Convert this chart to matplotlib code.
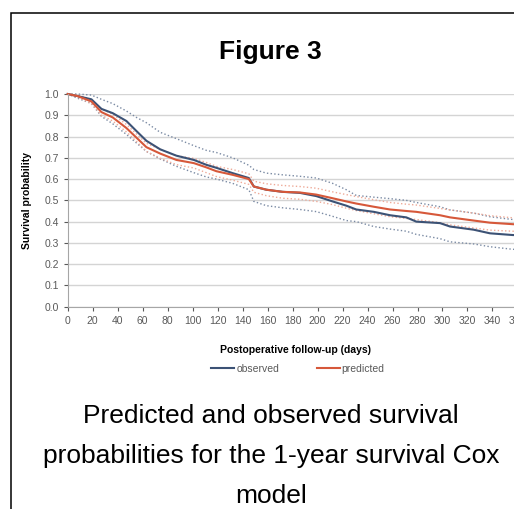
import matplotlib.pyplot as plt
from matplotlib.patches import Rectangle

plt.rcParams['font.family'] = ['Liberation Sans', 'DejaVu Sans']

# ==========================================
# data (days, survival probability)
# ==========================================
DAYS = [0, 8, 19, 27, 36, 47, 55, 63, 74, 87, 101, 111, 119, 132, 145, 149,
        159, 172, 186, 199, 212, 223, 231, 245, 258, 271, 279, 298, 306, 325,
        338, 356, 365]

OBSERVED = [1.0, 0.99, 0.975, 0.93, 0.91, 0.873, 0.826, 0.78, 0.74, 0.71, 0.69,
            0.667, 0.653, 0.628, 0.605, 0.565, 0.55, 0.54, 0.535, 0.52, 0.495,
            0.475, 0.457, 0.446, 0.43, 0.42, 0.40, 0.393, 0.377, 0.362, 0.345,
            0.337, 0.335]
OBS_UPPER = [1.0, 1.0, 0.995, 0.975, 0.955, 0.92, 0.89, 0.865, 0.82, 0.79, 0.757,
             0.735, 0.725, 0.70, 0.665, 0.645, 0.628, 0.62, 0.613, 0.605, 0.58,
             0.55, 0.523, 0.515, 0.508, 0.50, 0.49, 0.47, 0.455, 0.44, 0.423,
             0.41, 0.405]
OBS_LOWER = [1.0, 0.98, 0.955, 0.895, 0.86, 0.81, 0.77, 0.73, 0.695, 0.66, 0.63,
             0.61, 0.60, 0.58, 0.55, 0.495, 0.475, 0.465, 0.457, 0.447, 0.425,
             0.405, 0.40, 0.377, 0.365, 0.355, 0.34, 0.32, 0.305, 0.295, 0.282,
             0.27, 0.268]

PREDICTED = [1.0, 0.99, 0.965, 0.915, 0.89, 0.84, 0.795, 0.75, 0.72, 0.69, 0.675,
             0.655, 0.637, 0.62, 0.60, 0.565, 0.55, 0.54, 0.537, 0.527, 0.51,
             0.495, 0.485, 0.47, 0.457, 0.45, 0.446, 0.43, 0.42, 0.405, 0.395,
             0.388, 0.385]
PRED_UPPER = [1.0, 0.995, 0.975, 0.93, 0.905, 0.857, 0.812, 0.768, 0.74, 0.71,
              0.697, 0.678, 0.66, 0.645, 0.625, 0.59, 0.578, 0.57, 0.565, 0.557,
              0.54, 0.527, 0.518, 0.503, 0.49, 0.482, 0.478, 0.462, 0.455, 0.44,
              0.428, 0.418, 0.415]
PRED_LOWER = [1.0, 0.985, 0.955, 0.90, 0.873, 0.822, 0.777, 0.73, 0.698, 0.668,
              0.652, 0.63, 0.612, 0.595, 0.575, 0.538, 0.522, 0.51, 0.505, 0.495,
              0.48, 0.463, 0.452, 0.437, 0.423, 0.415, 0.41, 0.395, 0.385, 0.37,
              0.36, 0.355, 0.352]

X_TICKS = list(range(0, 361, 20))
Y_TICKS = [i / 10 for i in range(11)]

CAPTION = ["Predicted and observed survival",
           "probabilities for the 1-year survival Cox",
           "model"]

BLUE = '#3c5275'
RED = '#d6583a'
BLUE_DOT = '#7a8aa3'
RED_DOT = '#eeaa98'
TICK_GRAY = '#595959'

fig = plt.figure(figsize=(5.14, 5.09), dpi=100)

# outer frame (cut off on right and bottom like the source)
fig.patches.append(Rectangle((11 / 514, -0.1), 1.2, (509 - 13) / 509 + 0.1,
                             transform=fig.transFigure, fill=False,
                             edgecolor='black', linewidth=1.1))

fig.text(270 / 514, 1 - 52 / 509, "Figure 3", ha='center', va='center',
         fontsize=19, fontweight='bold')

ax = fig.add_axes([67.7 / 514, 202.3 / 509, 456 / 514, 212.7 / 509])
ax.plot(DAYS, OBS_UPPER, color=BLUE_DOT, linestyle=':', linewidth=1.0)
ax.plot(DAYS, OBS_LOWER, color=BLUE_DOT, linestyle=':', linewidth=1.0)
ax.plot(DAYS, PRED_UPPER, color=RED_DOT, linestyle=':', linewidth=1.0)
ax.plot(DAYS, PRED_LOWER, color=RED_DOT, linestyle=':', linewidth=1.0)
ax.plot(DAYS, OBSERVED, color=BLUE, linewidth=1.5, label='observed')
ax.plot(DAYS, PREDICTED, color=RED, linewidth=1.5, label='predicted')

ax.set_xlim(0, 365)
ax.set_ylim(0, 1.0)
ax.set_xticks(X_TICKS)
ax.set_yticks(Y_TICKS)
ax.set_yticklabels([f"{v:.1f}" for v in Y_TICKS])
ax.tick_params(labelsize=7.5, colors=TICK_GRAY, length=3, width=0.8)
ax.grid(axis='y', color='#d4d4d4', linewidth=1.0)
ax.set_axisbelow(True)
for s in ['top', 'right']:
    ax.spines[s].set_visible(False)
for s in ['left', 'bottom']:
    ax.spines[s].set_color('#a6a6a6')
    ax.spines[s].set_linewidth(0.8)
for ln in ax.get_lines():
    ln.set_clip_on(False)

ax.set_ylabel("Survival probability", fontsize=7.5, fontweight='bold', labelpad=9)
fig.text(295 / 514, 1 - 350 / 509, "Postoperative follow-up (days)",
         ha='center', va='center', fontsize=7.5, fontweight='bold')

handles, labels = ax.get_legend_handles_labels()
leg = fig.legend(handles, labels, loc='center', ncol=2, frameon=False,
                 bbox_to_anchor=(298 / 514, 1 - 369 / 509), fontsize=7.5,
                 handlelength=2.2, handletextpad=0.2, columnspacing=3.6)
for t in leg.get_texts():
    t.set_color(TICK_GRAY)

# caption under the chart, baselines 40 px apart
for i, line in enumerate(CAPTION):
    fig.text(271 / 514, 1 - (423 + 40 * i) / 509, line,
             ha='center', va='baseline', fontsize=19)

fig.savefig("out.png", dpi=100)
